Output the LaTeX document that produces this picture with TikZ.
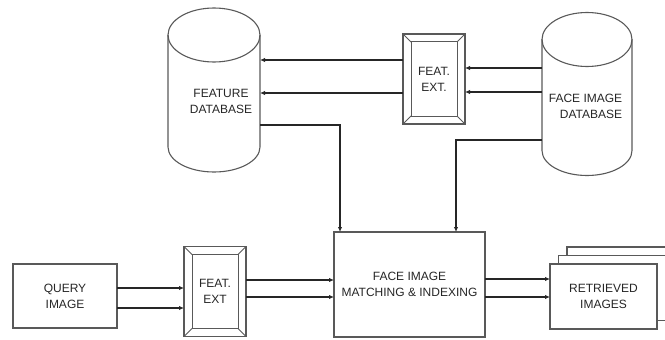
\documentclass[tikz,border=0pt]{standalone}
\usepackage{fontspec}
\setmainfont{Liberation Sans}
\usetikzlibrary{arrows.meta,positioning}

\tikzset{
  box/.style={draw=black!65, line width=1.1bp, inner sep=0, outer sep=0},
  frame/.style={box, minimum width=62bp, minimum height=90bp},
  body/.style={inner sep=0, outer sep=0},
  flow/.style={line width=1.2bp, -{Latex[length=5bp,width=4.5bp]}},
  back/.style={line width=1.2bp, {Latex[length=5bp,width=4.5bp]}-},
}

\begin{document}
\begin{tikzpicture}[x=1bp,y=1bp,line width=1bp,color=black!85,
  every node/.style={font=\fontsize{12bp}{16bp}\selectfont, align=center}]
\useasboundingbox (0,0) rectangle (665,339);

% databases
\node[body, minimum width=92bp, minimum height=112bp] (fdb) at (214,248) {};
\node[body, minimum width=90bp, minimum height=111bp] (idb) at (587,244) {};
\foreach \n/\r in {fdb/46,idb/45} {
  \draw[black!65, line width=1.1bp] (\n.north west) -- (\n.south west)
    arc[start angle=180,end angle=360,x radius=\r,y radius=25] -- (\n.north east);
  \draw[black!65, line width=1.1bp] (\n.north) ellipse[x radius=\r,y radius=27];
}
\node (fdbtext) at (221,237.5) {FEATURE\\DATABASE};
\node[align=right, anchor=east] (idbtext) at (626,233) {FACE IMAGE\\DATABASE};

% boxes
\node[frame] (fexta) at (434,260) {FEAT.\\EXT.};
\node[frame] (fextb) at (215,47.5) {FEAT.\\EXT};
\node[box, minimum width=104bp, minimum height=64bp] (query) at (65,43) {QUERY\\IMAGE};
\node[box, minimum width=151bp, minimum height=105bp] (match) at (409.5,54.5) {FACE IMAGE\\MATCHING \& INDEXING};
\node[box, fill=white, minimum width=107bp, minimum height=65bp] (ret3) at (620.5,59.5) {};
\node[box, fill=white, minimum width=107bp, minimum height=65bp] (ret2) at (612,51) {};
\node[box, fill=white, minimum width=107bp, minimum height=65bp] (ret) at (603.5,42.5) {RETRIEVED\\IMAGES};

% bevelled frames
\foreach \n in {fexta,fextb} {
  \draw[black!65] ([shift={(8,-8)}]\n.north west) rectangle ([shift={(-8,8)}]\n.south east);
  \draw[black!65] (\n.north west) -- ++(8,-8) (\n.north east) -- ++(-8,-8)
        (\n.south west) -- ++(8,8) (\n.south east) -- ++(-8,8);
}

% arrows
\foreach \a/\b/\s in {fexta/fdb/19, fexta/fdb/-14}
  \draw[flow] ([yshift=\s bp]\a.west) coordinate (tmp) -- (tmp -| \b.east);
\foreach \s in {11,-13}
  \draw[back] ([yshift=\s bp]fexta.east) coordinate (tmp) -- (tmp -| idb.west);
\draw[flow] ([yshift=-34bp]fdb.east) -| ([xshift=-69.5bp]match.north);
\draw[flow] ([yshift=-45bp]idb.west) -| ([xshift=46.5bp]match.north);
\foreach \a/\b/\s in {query/fextb/8, query/fextb/-12, fextb/match/11.5,
                      fextb/match/-5.5, match/ret/5.5, match/ret/-12.5}
  \draw[flow] ([yshift=\s bp]\a.east) coordinate (tmp) -- (tmp -| \b.west);
\end{tikzpicture}
\end{document}
